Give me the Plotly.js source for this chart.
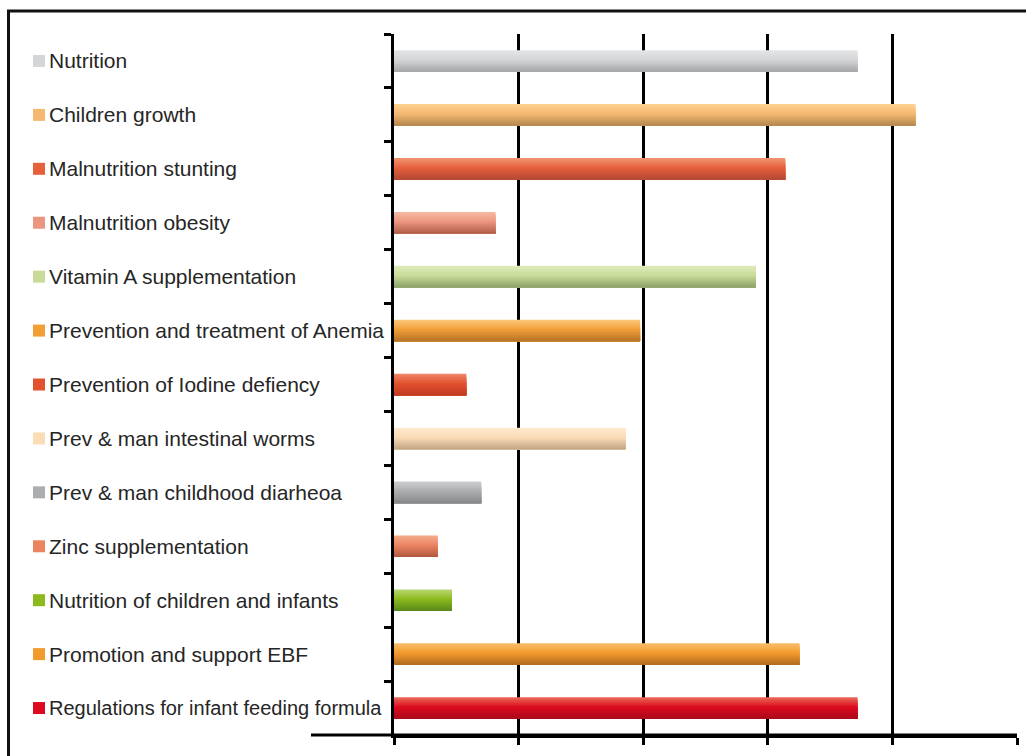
<!DOCTYPE html>
<html>
<head>
<meta charset="utf-8">
<script src="https://cdn.plot.ly/plotly-3.0.1.min.js"></script>
<style>
  html, body { margin: 0; padding: 0; background: #fff; }
  #chart { width: 1026px; height: 756px; }
</style>
</head>
<body>
<div id="chart"></div>
<script>
// Topics covered, top to bottom
const categories = [
  "Nutrition",
  "Children growth",
  "Malnutrition stunting",
  "Malnutrition obesity",
  "Vitamin A supplementation",
  "Prevention and treatment of Anemia",
  "Prevention of Iodine defiency",
  "Prev & man intestinal worms",
  "Prev & man childhood diarheoa",
  "Zinc supplementation",
  "Nutrition of children and infants",
  "Promotion and support EBF",
  "Regulations for infant feeding formula"
];

// Share (%) for each topic
const values = [74.4, 83.7, 62.8, 16.3, 58.1, 39.5, 11.6, 37.2, 14.0, 7.0, 9.3, 65.1, 74.4];

// Bar shading: light top edge, main colour, dark lower edge
const topColors = ["#e3e4e6", "#fdd08f", "#f0906e", "#f6b7a0", "#dde9b8", "#fbc57a", "#ee8466",
                   "#ffe8cc", "#cacbcd", "#f5a888", "#b8d46e", "#f9bc66", "#ea6454"];
const midColors = ["#d4d5d7", "#f4b870", "#e7603c", "#ec9680", "#c9db9a", "#f29e36", "#e2502e",
                   "#fadcb6", "#acadaf", "#ec8462", "#8cba1c", "#f29a2c", "#dc0a1e"];
const lowColors = ["#a8a9ab", "#b78a52", "#b44a33", "#b2614d", "#8fa46a", "#b87428", "#c23c22",
                   "#c4a888", "#898a8c", "#b35a40", "#5a8a1c", "#b46e20", "#ad0a1c"];

function hexToRgb(h) {
  const n = parseInt(h.slice(1), 16);
  return [(n >> 16) & 255, (n >> 8) & 255, n & 255];
}
function mix(a, b, t) {
  const A = hexToRgb(a), B = hexToRgb(b);
  const c = A.map((v, i) => Math.round(v + (B[i] - v) * t));
  return "rgb(" + c.join(",") + ")";
}

// Thickness of a bar in category units, and the shading steps across it
const BAR = 0.4;
const STEPS = 14;
const traces = [];
for (let s = 0; s < STEPS; s++) {
  const f = s / (STEPS - 1);           // 0 = top edge, 1 = bottom edge
  const colors = categories.map((_, i) =>
    f < 0.45 ? mix(topColors[i], midColors[i], f / 0.45)
             : mix(midColors[i], lowColors[i], (f - 0.45) / 0.55));
  const start = -BAR / 2 + BAR * s / STEPS;  // each layer runs down to the bar's lower edge
  traces.push({
    type: "bar",
    orientation: "h",
    y: categories,
    x: values,
    offset: start,
    width: BAR / 2 - start,
    marker: { color: colors, line: { width: 0 } },
    hoverinfo: "skip",
    showlegend: false
  });
}

// Pixel geometry of the plotting area
const L = 394, R = 9, T = 34, B = 21;
const W = 1026 - L - R, H = 756 - T - B;
const px = p => (p - L) / W;
const py = p => (756 - B - p) / H;

const shapes = [
  // outer frame
  { type: "rect", xref: "paper", yref: "paper", x0: px(8.5), x1: 1.2, y0: -0.2, y1: py(11),
    line: { color: "#111", width: 3 }, fillcolor: "rgba(0,0,0,0)", layer: "below" },
  // baseline running left of the value axis
  { type: "line", xref: "paper", yref: "paper", x0: px(311), x1: 1, y0: 0, y1: 0,
    line: { color: "#000", width: 3 } }
];
const annotations = [];
categories.forEach((c, i) => {
  shapes.push({
    type: "rect", xref: "paper", yref: "y",
    xsizemode: "pixel", ysizemode: "pixel",
    xanchor: px(39), yanchor: c,
    x0: -6, x1: 6, y0: -6, y1: 6,
    fillcolor: midColors[i], line: { width: 0 }
  });
  // the longest label is set a size smaller so it stays clear of the axis
  const size = i === categories.length - 1 ? 20 : 21;
  annotations.push({
    xref: "paper", yref: "y", x: px(47), y: c,
    xanchor: "left", yanchor: "middle", showarrow: false,
    text: c, font: { family: "Liberation Sans, Arial, sans-serif", size: size, color: "#262626" }
  });
});

const layout = {
  width: 1026, height: 756,
  margin: { l: L, r: R, t: T, b: B, pad: 0 },
  paper_bgcolor: "#fff", plot_bgcolor: "#fff",
  barmode: "overlay",
  showlegend: false,
  xaxis: {
    range: [0, 100], tick0: 0, dtick: 20,
    showgrid: true, gridcolor: "#000", gridwidth: 3,
    zeroline: false,
    showline: true, linecolor: "#000", linewidth: 3,
    ticks: "outside", ticklen: 7, tickwidth: 3, tickcolor: "#000",
    showticklabels: false, fixedrange: true
  },
  yaxis: {
    type: "category", autorange: "reversed",
    showgrid: false, zeroline: false,
    showline: true, linecolor: "#000", linewidth: 3,
    ticks: "outside", tickson: "boundaries", ticklen: 7, tickwidth: 3, tickcolor: "#000",
    showticklabels: false, fixedrange: true
  },
  shapes: shapes,
  annotations: annotations
};

Plotly.newPlot("chart", traces, layout, { staticPlot: true, displayModeBar: false });
</script>
</body>
</html>
